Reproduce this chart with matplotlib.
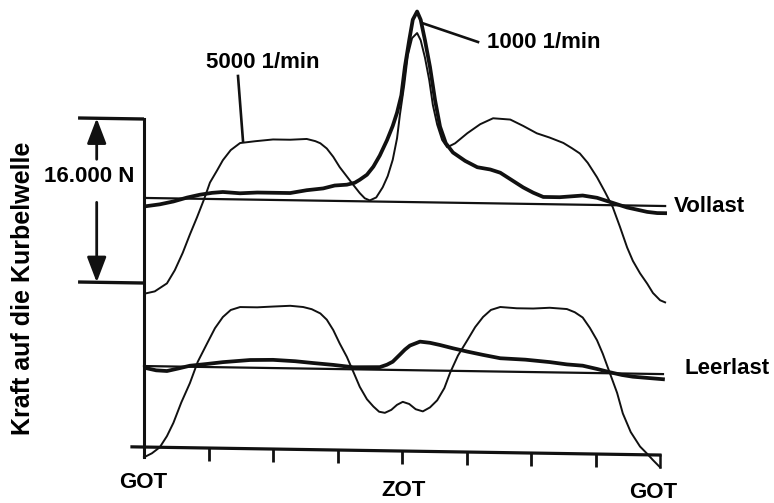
import numpy as np
import matplotlib
matplotlib.use("Agg")
import matplotlib.pyplot as plt
from matplotlib.transforms import Affine2D

# Kurbelwinkel in Grad (0 = GOT, 360 = ZOT, 720 = GOT), Kraft in kN
voll_5000_deg = [3, 15, 32, 43, 54, 64, 74, 84, 92, 102, 110, 121, 134, 155, 180, 204, 227, 239,
                 246, 255, 264, 273, 283, 293, 301, 308, 315, 324, 333, 340, 347, 353, 357, 363,
                 368, 374, 381, 386, 392, 398, 403, 409, 416, 423, 434, 451, 469, 487, 511, 529,
                 548, 566, 585, 597, 608, 619, 632, 643, 654, 664, 674, 682, 692, 702, 710, 720, 727]
voll_5000_kn = [15.0, 15.2, 16.0, 17.3, 19.0, 20.8, 22.5, 24.3, 25.9, 27.1, 28.1, 29.1, 29.8, 30.0,
                30.2, 30.2, 30.3, 30.1, 29.9, 29.4, 28.6, 27.6, 26.7, 25.8, 25.1, 24.6, 24.4, 24.7,
                25.7, 26.8, 28.4, 30.5, 32.8, 35.7, 38.6, 40.3, 40.8, 40.1, 38.4, 36.2, 33.8, 31.9,
                30.4, 29.7, 30.1, 31.1, 32.0, 32.6, 32.5, 31.9, 31.2, 30.8, 30.3, 29.8, 29.3, 28.4,
                27.0, 25.6, 24.1, 22.2, 20.2, 18.9, 17.7, 16.7, 15.8, 15.1, 14.9]

voll_1000_deg = [3, 22, 41, 60, 78, 95, 110, 134, 158, 180, 204, 227, 250, 266, 283, 294, 301, 311,
                 320, 329, 339, 347, 353, 359, 364, 370, 375, 381, 386, 392, 399, 406, 413, 421,
                 431, 448, 465, 483, 497, 513, 529, 543, 557, 580, 612, 632, 646, 660, 674, 688,
                 702, 716, 727]
voll_1000_kn = [23.5, 23.7, 24.0, 24.4, 24.7, 24.9, 25.0, 24.9, 25.0, 25.0, 25.0, 25.3, 25.5, 25.8,
                25.9, 26.1, 26.4, 26.9, 27.7, 28.8, 30.3, 31.7, 33.0, 34.7, 37.5, 40.1, 42.1, 42.9,
                42.1, 40.1, 37.5, 34.3, 31.7, 30.1, 29.2, 28.4, 27.8, 27.6, 27.3, 26.6, 25.9, 25.4,
                25.0, 25.0, 25.2, 25.0, 24.7, 24.4, 24.1, 23.9, 23.7, 23.6, 23.6]

leer_5000_deg = [0, 11, 22, 32, 41, 52, 64, 75, 88, 99, 110, 121, 134, 158, 180, 204, 222, 234,
                 246, 255, 264, 273, 283, 293, 301, 311, 320, 328, 336, 345, 353, 361, 370, 379,
                 389, 399, 409, 419, 427, 438, 451, 462, 473, 484, 497, 520, 543, 566, 590, 601,
                 612, 622, 632, 640, 650, 660, 668, 679, 692, 702, 710, 720]
leer_5000_kn = [-1.0, -0.6, 0.0, 1.1, 2.4, 4.4, 6.3, 8.4, 10.2, 11.7, 12.8, 13.5, 13.8, 13.8, 13.9,
                14.0, 13.9, 13.7, 13.3, 12.7, 11.7, 10.4, 9.1, 7.5, 6.2, 5.0, 4.3, 3.8, 3.7, 4.0,
                4.5, 4.8, 4.6, 4.1, 3.9, 4.3, 5.0, 6.2, 7.7, 9.4, 10.9, 12.2, 13.2, 13.9, 14.2,
                14.1, 14.1, 14.2, 14.1, 13.8, 13.3, 12.3, 11.1, 9.8, 7.9, 6.0, 4.0, 2.2, 0.8, 0.1,
                -0.5, -1.2]

leer_1000_deg = [3, 17, 32, 47, 64, 88, 110, 148, 180, 211, 236, 264, 292, 329, 339, 347, 357, 364,
                 371, 385, 399, 413, 431, 451, 473, 497, 532, 566, 590, 612, 632, 650, 667, 682,
                 703, 724]
leer_1000_kn = [7.7, 7.5, 7.45, 7.7, 8.0, 8.2, 8.4, 8.65, 8.7, 8.6, 8.45, 8.3, 8.1, 8.15, 8.4, 8.7,
                9.4, 9.9, 10.3, 10.7, 10.6, 10.4, 10.1, 9.8, 9.5, 9.2, 9.1, 8.9, 8.7, 8.6, 8.3, 8.0,
                7.75, 7.6, 7.5, 7.4]

vollast_ref = 24.3
leerlast_ref = 7.9
skala = (16.0, 32.0)          # 16.000 N Massstab
tick_deg = [90, 180, 270, 360, 450, 540, 630]

plt.rcParams['font.family'] = ['Liberation Sans', 'DejaVu Sans']
plt.rcParams['font.weight'] = 'bold'

W, H = 774, 503
fig = plt.figure(figsize=(W / 100, H / 100), dpi=100)
ax = fig.add_axes([0, 0, 1, 1])
ax.set_xlim(-200.9, 878.9)
ax.set_ylim(-5.46, 43.61)
ax.axis('off')

# die Vorlage ist leicht schraeg gescannt: Scherung nach rechts unten
s = 0.0155
tr = ax.transData + Affine2D(np.array([[1, 0, 0], [-s, 1, s * 144], [0, 0, 1]]))

k = '#111111'
# Achsen
ax.plot([-19, 722], [0, 0], color=k, lw=2.3, transform=tr, solid_capstyle='butt')
ax.plot([0, 0], [-1.0, skala[1]], color=k, lw=2.2, transform=tr)
ax.plot([720, 720], [0, -1.2], color=k, lw=1.8, transform=tr)
ax.vlines(tick_deg, -1.25, 0, color=k, lw=2.0, transform=tr)

# Massstab
for yv in skala:
    ax.plot([-92, 0], [yv, yv], color=k, lw=2.4, transform=tr, solid_capstyle='butt')
ax.annotate('', xy=(-66, skala[1]), xytext=(-66, 28.0), xycoords=tr, textcoords=tr,
            arrowprops=dict(arrowstyle='-|>,head_length=1.1,head_width=0.42', color=k,
                            lw=2.0, mutation_scale=14, shrinkA=0, shrinkB=0))
ax.annotate('', xy=(-66, skala[0]), xytext=(-66, 23.8), xycoords=tr, textcoords=tr,
            arrowprops=dict(arrowstyle='-|>,head_length=1.1,head_width=0.42', color=k,
                            lw=2.0, mutation_scale=14, shrinkA=0, shrinkB=0))

# Bezugslinien
ax.plot([2, 727], [vollast_ref, vollast_ref], color=k, lw=1.6, transform=tr)
ax.plot([0, 724], [leerlast_ref, leerlast_ref], color=k, lw=1.6, transform=tr)

# Kurven
ax.plot(voll_5000_deg, voll_5000_kn, color=k, lw=1.4, transform=tr)
ax.plot(voll_1000_deg, voll_1000_kn, color=k, lw=2.7, transform=tr)
ax.plot(leer_5000_deg, leer_5000_kn, color=k, lw=1.4, transform=tr)
ax.plot(leer_1000_deg, leer_1000_kn, color=k, lw=2.7, transform=tr)


def px(x, y):
    return x / W, 1 - y / H


# Hinweislinien
for (x0, y0), (x1, y1) in [((238, 76), (243, 141)), ((422, 23), (478, 42))]:
    fig.add_artist(plt.Line2D([x0 / W, x1 / W], [1 - y0 / H, 1 - y1 / H],
                              transform=fig.transFigure, color=k, lw=1.9))

fs = 16
fig.text(*px(263, 62), '5000 1/min', ha='center', va='center', fontsize=fs)
fig.text(*px(544, 43), '1000 1/min', ha='center', va='center', fontsize=fs)
fig.text(*px(89, 176), '16.000 N', ha='center', va='center', fontsize=fs)
fig.text(*px(674, 206), 'Vollast', ha='left', va='center', fontsize=fs)
fig.text(*px(684, 368), 'Leerlast', ha='left', va='center', fontsize=fs)
fig.text(*px(143, 482), 'GOT', ha='center', va='center', fontsize=fs)
fig.text(*px(404, 490), 'ZOT', ha='center', va='center', fontsize=fs)
fig.text(*px(653, 492), 'GOT', ha='center', va='center', fontsize=fs)
fig.text(*px(23, 288), 'Kraft auf die Kurbelwelle', ha='center', va='center',
         rotation=90, fontsize=18)

fig.savefig('out.png', dpi=100)
